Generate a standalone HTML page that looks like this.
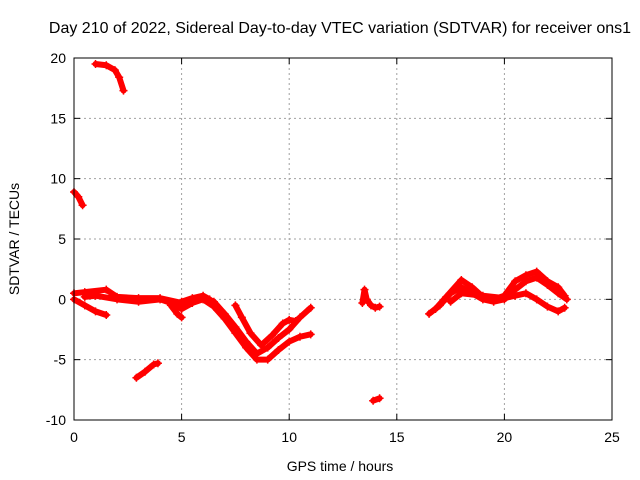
<!DOCTYPE html>
<html><head><meta charset="utf-8"><style>
body{margin:0;background:#fff}
svg{display:block;font-family:"Liberation Sans",sans-serif;font-size:14px}
</style></head><body>
<svg id="chart" width="640" height="480">
<text x="340" y="33" text-anchor="middle" style="font-size:16px">Day 210 of 2022, Sidereal Day-to-day VTEC variation (SDTVAR) for receiver ons1</text>
<text x="340" y="471" text-anchor="middle">GPS time / hours</text>
<text transform="translate(19,239) rotate(-90)" text-anchor="middle">SDTVAR / TECUs</text>
<g id="grid"></g><g id="axes"></g><g id="marks"></g>
<rect x="74" y="58" width="538" height="362" fill="none" stroke="#000"/>
</svg>
<script>
const xTicks=[0,5,10,15,20,25];
const yTicks=[-10,-5,0,5,10,15,20];
const trackTop=[[1.0,19.5],[1.5,19.4],[1.9,19.0],[2.1,18.4],[2.3,17.3]];
const trackEarly=[[0,8.9],[0.2,8.5],[0.4,7.8]];
const trackLow=[[2.9,-6.5],[3.3,-6.0],[3.7,-5.4],[3.9,-5.3]];
const trackA=[[0,0.5],[0.5,0.6],[1.5,0.8],[2,0.2],[3,0.1],[4,0.1],[5,-0.3],[5.5,0],[6,0.2],[6.5,-0.2],[7,-1.2],[7.5,-2.3],[8,-3.5],[8.5,-4.5],[9,-4.0],[9.5,-3.2],[10,-2.5],[10.5,-1.5],[11,-0.7]];
const trackB=[[0,0],[0.5,-0.5],[1,-1.0],[1.5,-1.3]];
const trackC=[[0.5,0.2],[1,0.3],[2,0.0],[3,-0.2],[4,0],[4.5,-0.3],[5,-0.8],[5.5,-0.3],[6,0],[6.5,-0.6],[7,-1.6],[7.5,-2.8],[8,-4.0],[8.5,-5.0],[9,-5.0],[9.5,-4.2],[10,-3.5],[10.5,-3.1],[11,-2.9]];
const trackD=[[7.5,-0.5],[7.8,-1.5],[8.2,-2.8],[8.7,-3.8],[9.2,-3.0],[9.7,-2.0],[10,-1.7],[10.3,-1.8]];
const trackE=[[4.5,-0.5],[4.8,-1.2],[5,-1.5]];
const trackF=[[5,-0.2],[5.5,0.1],[6,0.3],[6.3,0]];
const trackMid=[[13.4,-0.3],[13.5,0.8],[13.6,0],[13.8,-0.5],[14.0,-0.7],[14.2,-0.6]];
const trackMidLow=[[13.9,-8.4],[14.2,-8.2]];
const trackG=[[16.5,-1.2],[17,-0.5],[17.5,0.5],[18,1.0],[18.5,0.5],[19,0],[19.5,-0.2],[20,0],[20.5,0.8],[21,1.5],[21.5,1.8],[22,1.2],[22.5,0.5],[22.9,0]];
const trackH=[[16.8,-0.8],[17.3,0.2],[18,1.6],[18.5,1.0],[19,0.2],[19.5,0],[20,0.3],[20.5,1.5],[21,2.0],[21.5,2.3],[22,1.5],[22.5,1.0],[22.8,0.3]];
const trackI=[[17.5,-0.2],[18,0.5],[19,0.3],[20,0.1],[20.5,0.3],[21,0.5],[21.5,0],[22,-0.6],[22.5,-1.0],[22.8,-0.7]];
const tracks=[trackTop,trackEarly,trackLow,trackA,trackB,trackC,trackD,trackE,trackF,trackMid,trackMidLow,trackG,trackH,trackI];

const X0=74,X1=612,Y0=420,Y1=58;
const sx=v=>X0+(v-0)/(25-0)*(X1-X0);
const sy=v=>Y0-(v+10)/30*(Y0-Y1);
const NS="http://www.w3.org/2000/svg";
const mk=(t,a,p)=>{const e=document.createElementNS(NS,t);for(const k in a)e.setAttribute(k,a[k]);p.appendChild(e);return e;};
const grid=document.getElementById('grid'),axes=document.getElementById('axes'),marks=document.getElementById('marks');
xTicks.forEach(t=>{
  const x=sx(t);
  if(t>0&&t<25){const g=mk('line',{x1:x,x2:x,y1:Y0,y2:Y1,stroke:'#a0a0a0','stroke-dasharray':'2,3','stroke-width':1},grid);
  
  }
  mk('line',{x1:x,x2:x,y1:Y0,y2:Y0-6,stroke:'#000'},axes);
  mk('line',{x1:x,x2:x,y1:Y1,y2:Y1+6,stroke:'#000'},axes);
  const l=mk('text',{x:x,y:Y0+22,'text-anchor':'middle'},axes);l.textContent=t;
  
  
});
yTicks.forEach(t=>{
  const y=sy(t);
  if(t>-10&&t<20){const g=mk('line',{x1:X0,x2:X1,y1:y,y2:y,stroke:'#a0a0a0','stroke-dasharray':'2,3','stroke-width':1},grid);
  
  }
  mk('line',{x1:X0,x2:X0+6,y1:y,y2:y,stroke:'#000'},axes);
  mk('line',{x1:X1,x2:X1-6,y1:y,y2:y,stroke:'#000'},axes);
  const l=mk('text',{x:X0-8,y:y+5,'text-anchor':'end'},axes);l.textContent=t;
  
  
});
tracks.forEach(tr=>{
  const p=mk('polyline',{points:tr.map(d=>sx(d[0])+','+sy(d[1])).join(' '),fill:'none',stroke:'#f00','stroke-width':6,'stroke-linejoin':'round','stroke-linecap':'round'},marks);
  
  
  tr.forEach(d=>{
    const x=sx(d[0]),y=sy(d[1]);
    const m=mk('path',{d:`M${x-4},${y}H${x+4}M${x},${y-4}V${y+4}`,stroke:'#f00','stroke-width':1.5},marks);
    
    
  });
});
</script>
</body></html>
